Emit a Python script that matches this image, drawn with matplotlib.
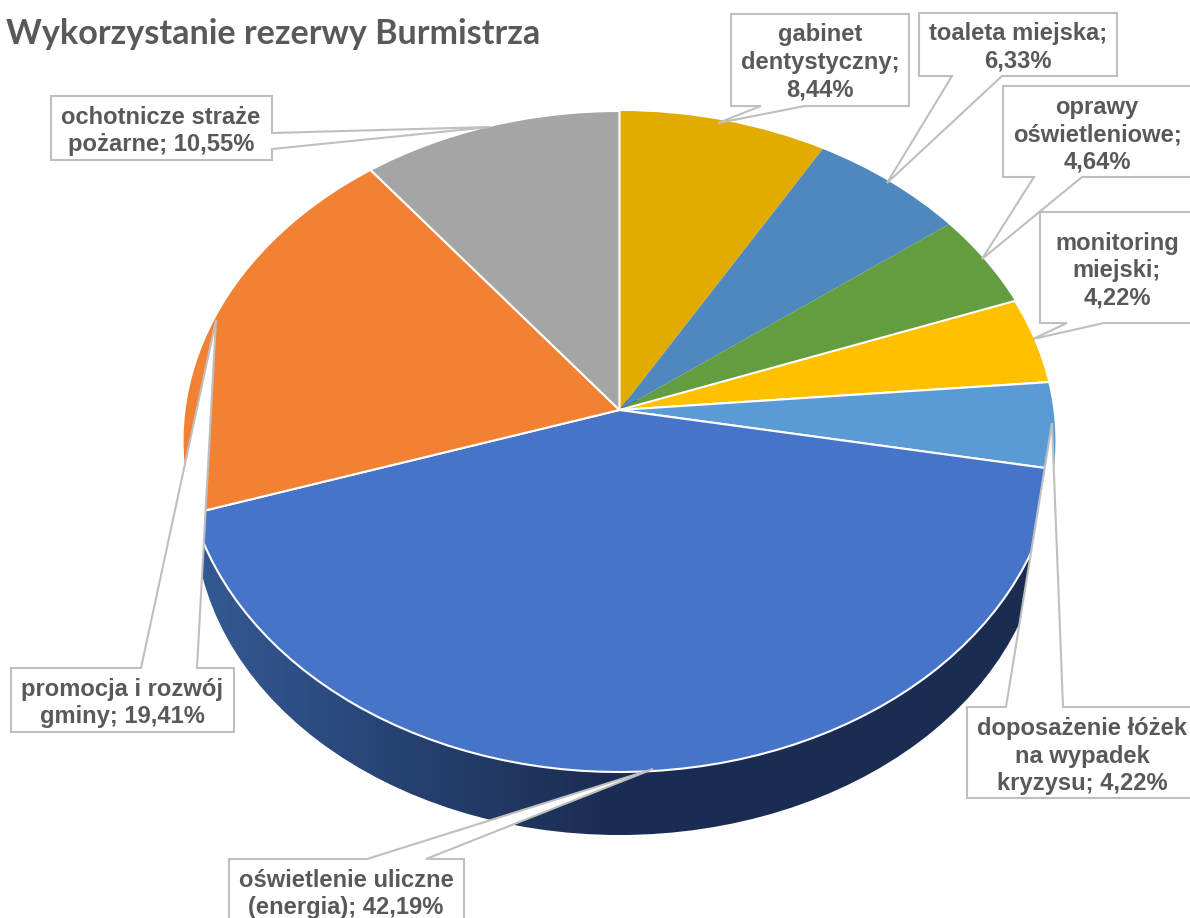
import matplotlib
matplotlib.use('Agg')
import matplotlib.pyplot as plt
import numpy as np
from matplotlib.patches import Ellipse, Polygon
from matplotlib.transforms import Transform

title = 'Wykorzystanie rezerwy Burmistrza'
categories = ['gabinet dentystyczny', 'toaleta miejska', 'oprawy oświetleniowe', 'monitoring miejski',
              'doposażenie łóżek na wypadek kryzysu', 'oświetlenie uliczne (energia)',
              'promocja i rozwój gminy', 'ochotnicze straże pożarne']
values = [8.44, 6.33, 4.64, 4.22, 4.22, 42.19, 19.41, 10.55]
labels = ['gabinet\ndentystyczny;\n8,44%', 'toaleta miejska;\n6,33%', 'oprawy\noświetleniowe;\n4,64%',
          'monitoring\nmiejski;\n4,22%', 'doposażenie łóżek\nna wypadek\nkryzysu; 4,22%',
          'oświetlenie uliczne\n(energia); 42,19%', 'promocja i rozwój\ngminy; 19,41%',
          'ochotnicze straże\npożarne; 10,55%']
colors = ['#E2AB00', '#4F88BE', '#639D3F', '#FFC000', '#5B9BD5', '#4674C8', '#F38134', '#A5A5A5']

# label centres and callout outlines, in picture pixels
label_pos = [(820, 62), (1018, 47), (1097, 135), (1117, 271), (1082, 756), (346, 894), (122, 703), (161, 131)]
callouts = [
    [(731, 14), (909, 14), (909, 106), (805, 106), (718, 123), (761, 106), (731, 106)],
    [(919, 13), (1117, 13), (1117, 76), (1002, 76), (887, 183), (952, 76), (919, 76)],
    [(1003, 86), (1200, 86), (1200, 177), (1082, 177), (982, 259), (1034, 177), (1003, 177)],
    [(1040, 212), (1200, 212), (1200, 323), (1104, 323), (1033, 339), (1067, 323), (1040, 323)],
    [(967, 707), (1006, 707), (1052, 423), (1063, 707), (1200, 707), (1200, 798), (967, 798)],
    [(229, 859), (367, 859), (653, 769), (426, 859), (464, 859), (464, 930), (229, 930)],
    [(11, 668), (141, 668), (216, 320), (197, 668), (234, 668), (234, 732), (11, 732)],
    [(51, 96), (272, 96), (272, 133), (490, 127), (272, 149), (272, 160), (51, 160)],
]


class TiltTransform(Transform):
    # unit circle -> tilted disc with a bit of perspective
    input_dims = 2
    output_dims = 2

    def __init__(self, cx, cy, a, b, k):
        super().__init__()
        self.cx, self.cy, self.a, self.b, self.k = cx, cy, a, b, k

    def transform_non_affine(self, pts):
        pts = np.asarray(pts)
        w = 1 + self.k * pts[:, 1]
        return np.column_stack((self.cx + self.a * pts[:, 0] / w, self.cy - self.b * pts[:, 1] / w))


fig = plt.figure(figsize=(11.9, 9.18), dpi=100)
ax = fig.add_axes([0, 0, 1, 1])

# side of the disc, darkening left to right
stops_x = [190, 293, 400, 500, 600, 1050]
stops_r = [0x35, 0x2E, 0x26, 0x21, 0x1B, 0x1A]
stops_g = [0x5A, 0x4F, 0x42, 0x38, 0x2D, 0x2C]
stops_b = [0x94, 0x85, 0x72, 0x62, 0x54, 0x50]
xs = np.arange(190, 1050)
grad = np.dstack([np.interp(xs, stops_x, c) / 255 for c in (stops_r, stops_g, stops_b)])
side = Ellipse((619.5, 515), 850, 640, fill=False, linewidth=0)
ax.add_patch(side)
im = ax.imshow(grad, extent=(190, 1050, 850, 400), aspect='auto', zorder=1)
im.set_clip_path(side)

wedges, _ = ax.pie(values, colors=colors, startangle=90, counterclock=False,
                   wedgeprops=dict(edgecolor='white', linewidth=1.5))
tilt = TiltTransform(619.5, 410, 435, 327.5, 0.0953)
for i, wedge in enumerate(wedges):
    wedge.set_transform(tilt + ax.transData)
    wedge.set_zorder(2)
    if i < 3:
        wedge.set_linewidth(0)

for outline in callouts:
    ax.add_patch(Polygon(outline, closed=True, facecolor='white', edgecolor='#BFBFBF', linewidth=1.5, zorder=3))

for label, (x, y) in zip(labels, label_pos):
    ax.text(x, y, label, ha='center', va='center', family='Liberation Sans', fontweight='bold',
            fontsize=17.1, color='#595959', linespacing=1.25, zorder=4)

ax.text(6, 34, title, ha='left', va='center', family='Lato', fontweight='bold', fontsize=24.6, color='#595959')

ax.set_aspect('auto')
ax.set_xlim(0, 1190)
ax.set_ylim(918, 0)
ax.set_axis_off()
fig.savefig('out.png', dpi=100)
